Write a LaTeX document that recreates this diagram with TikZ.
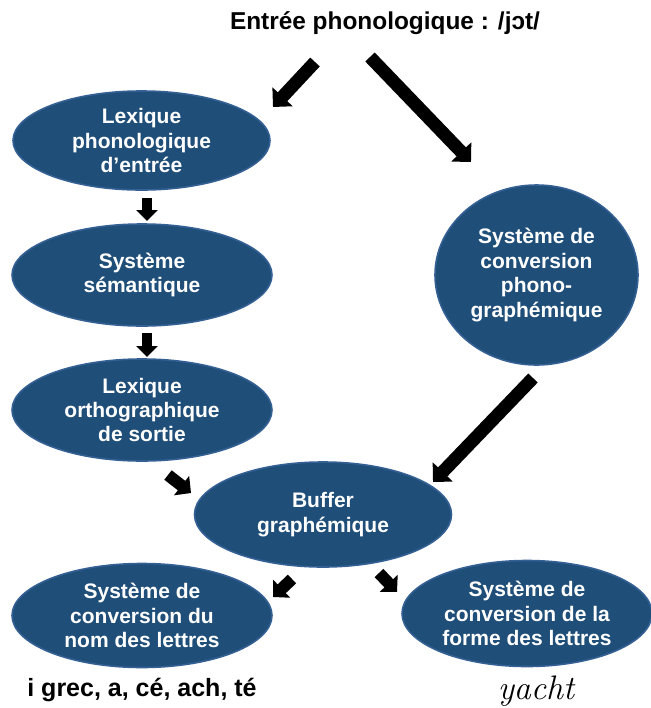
\documentclass[tikz,border=0pt]{standalone}
\usepackage{fontspec}
\setmainfont{Liberation Sans}
\usetikzlibrary{shapes.geometric,arrows.meta}
\definecolor{EllFill}{RGB}{31,78,121}
\definecolor{EllDraw}{RGB}{52,96,148}

\begin{document}
\begin{tikzpicture}[x=0.5pt,y=-0.5pt]
\useasboundingbox (0,0) rectangle (651,708);

\coordinate (C1) at (141.5, 140.5);
\coordinate (C2) at (142, 275);
\coordinate (C3) at (142, 410);
\coordinate (C4) at (536.5, 275);
\coordinate (C5) at (323, 514.5);
\coordinate (C6) at (142, 615.5);
\coordinate (C7) at (527, 613.5);

\coordinate (A1_1) at (315, 62);
\coordinate (A1_2) at (273, 107);
\coordinate (A2_1) at (370, 57);
\coordinate (A2_2) at (471, 162);
\coordinate (A3_1) at (147, 198);
\coordinate (A3_2) at (147, 221);
\coordinate (A4_1) at (147, 333);
\coordinate (A4_2) at (147, 357);
\coordinate (A5_1) at (533, 378);
\coordinate (A5_2) at (433, 482);
\coordinate (A6_1) at (168, 475);
\coordinate (A6_2) at (191, 493);
\coordinate (A7_1) at (292, 579);
\coordinate (A7_2) at (273, 597);
\coordinate (A8_1) at (379, 573);
\coordinate (A8_2) at (397, 592);


\tikzset{EllStyle/.style = {
 shape = ellipse,
 fill = EllFill,
 draw = EllDraw,
 line width = 0.8pt,
 text = white,
 font = \bfseries\fontsize{10.5}{12.2}\selectfont,
 align = center,
 inner sep = 0pt} }

\node[EllStyle, minimum width=128.5pt, minimum height=49.5pt] (E1) at (C1) {Lexique\\phonologique\\d’entrée};
\node[EllStyle, minimum width=130pt, minimum height=51pt] (E2) at (C2) {Système\\sémantique};
\node[EllStyle, minimum width=130pt, minimum height=51pt] (E3) at (C3) {Lexique\\orthographique\\de sortie};
\node[EllStyle, minimum width=101.5pt, minimum height=90pt] (E4) at (C4) {Système de\\conversion\\phono-\\graphémique};
\node[EllStyle, minimum width=128.5pt, minimum height=52.5pt] (E5) at (C5) {Buffer\\graphémique};
\node[EllStyle, minimum width=130pt, minimum height=52pt] (E6) at (C6) {Système de\\conversion du\\nom des lettres};
\node[EllStyle, minimum width=125pt, minimum height=53pt] (E7) at (C7) {Système de\\conversion de la\\forme des lettres};


\tikzset{BigArrowStyle/.style = {line width=6.5pt, -{Triangle[width=13.5pt, length=7pt]}} }
\tikzset{SmallArrowStyle/.style = {line width=5pt, -{Triangle[width=10.5pt, length=5.5pt]}} }
\tikzset{ShortArrowStyle/.style = {line width=6pt, -{Triangle[width=12pt, length=6pt]}} }

\draw[BigArrowStyle] (A1_1) -- (A1_2);
\draw[BigArrowStyle] (A2_1) -- (A2_2);
\draw[SmallArrowStyle] (A3_1) -- (A3_2);
\draw[SmallArrowStyle] (A4_1) -- (A4_2);
\draw[BigArrowStyle] (A5_1) -- (A5_2);
\draw[ShortArrowStyle] (A6_1) -- (A6_2);
\draw[ShortArrowStyle] (A7_1) -- (A7_2);
\draw[ShortArrowStyle] (A8_1) -- (A8_2);


\node[font=\bfseries\fontsize{12.2}{14}\selectfont] (T1) at (385, 23) {Entrée phonologique : /jɔt/};
\node[font=\bfseries\fontsize{12.5}{14}\selectfont] (T2) at (142, 690) {i grec, a, cé, ach, té};
\node[font=\fontspec{Latin Modern Roman}\itshape\fontsize{17}{20}\selectfont] (T3) at (536, 691) {yacht};

\end{tikzpicture}
\end{document}
